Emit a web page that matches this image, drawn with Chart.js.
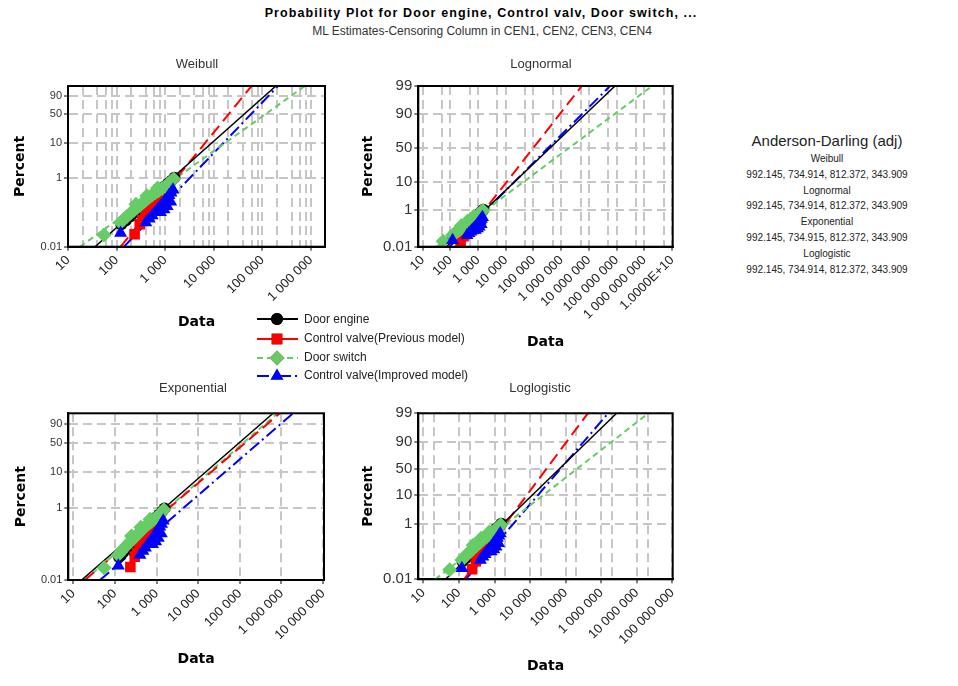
<!DOCTYPE html>
<html>
<head>
<meta charset="utf-8">
<script src="https://cdn.jsdelivr.net/npm/chart.js@4.4.1/dist/chart.umd.min.js"></script>
<style>
  body { margin: 0; width: 958px; height: 686px; background: #fff; position: relative; overflow: hidden;
         font-family: "Liberation Sans", Arial, sans-serif; color: #222; }
  canvas { position: absolute; }
  .abs { position: absolute; white-space: nowrap; }
  #title { left: 0; width: 962px; top: 6px; text-align: center; font-weight: bold; font-size: 12.5px; letter-spacing: 1.1px; color: #000; }
  #subtitle { left: 0; width: 964px; top: 24px; text-align: center; font-size: 12px; color: #333; }
  #ad { left: 727px; width: 200px; top: 131px; text-align: center; color: #222; }
  #ad .h { font-size: 15px; line-height: 20px; }
  #ad .r { font-size: 10px; line-height: 15.8px; }
  .lg { left: 304px; font-size: 12px; color: #222; }
</style>
</head>
<body>
<div id="title" class="abs">Probability Plot for Door engine, Control valv, Door switch, ...</div>
<div id="subtitle" class="abs">ML Estimates-Censoring Column in CEN1, CEN2, CEN3, CEN4</div>

<canvas id="weibull" width="345" height="285" style="left:0;top:50px"></canvas>
<canvas id="lognormal" width="345" height="305" style="left:350px;top:50px"></canvas>
<canvas id="exponential" width="345" height="300" style="left:0;top:380px"></canvas>
<canvas id="loglogistic" width="345" height="306" style="left:350px;top:380px"></canvas>

<canvas id="legendMarks" width="50" height="80" style="left:254px;top:309px"></canvas>
<div class="abs lg" style="top:312px">Door engine</div>
<div class="abs lg" style="top:331px">Control valve(Previous model)</div>
<div class="abs lg" style="top:350px">Door switch</div>
<div class="abs lg" style="top:368px">Control valve(Improved model)</div>

<div id="ad" class="abs">
  <div class="h">Anderson-Darling (adj)</div>
  <div class="r">Weibull</div>
  <div class="r">992.145, 734.914, 812.372, 343.909</div>
  <div class="r">Lognormal</div>
  <div class="r">992.145, 734.914, 812.372, 343.909</div>
  <div class="r">Exponential</div>
  <div class="r">992.145, 734.915, 812.372, 343.909</div>
  <div class="r">Loglogistic</div>
  <div class="r">992.145, 734.914, 812.372, 343.909</div>
</div>

<script>
// series names (legend order)
const seriesNames = ["Door engine", "Control valve(Previous model)", "Door switch", "Control valve(Improved model)"];

// plotted failures: data value and percent
const engineX = [125, 155, 195, 240, 290, 345, 410, 490, 580, 690, 820, 970, 1150, 1350, 1550];
const enginePct = [0.045, 0.058, 0.076, 0.1, 0.13, 0.16, 0.2, 0.25, 0.31, 0.38, 0.46, 0.56, 0.68, 0.82, 1.0];
const prevX = [235, 300, 340, 390, 440, 500, 570, 650, 740, 840, 950, 1080, 1220, 600, 760, 900];
const prevPct = [0.023, 0.045, 0.058, 0.075, 0.095, 0.12, 0.15, 0.18, 0.22, 0.26, 0.31, 0.37, 0.45, 0.11, 0.15, 0.19];
const switchX = [55, 120, 140, 165, 195, 230, 270, 320, 380, 450, 530, 620, 730, 860, 1000, 1150, 1320, 1500, 250, 420, 700];
const switchPct = [0.022, 0.05, 0.062, 0.077, 0.095, 0.115, 0.14, 0.17, 0.21, 0.26, 0.31, 0.36, 0.42, 0.49, 0.56, 0.65, 0.78, 0.92, 0.17, 0.3, 0.5];
const improvedX = [121, 400, 470, 540, 620, 700, 800, 900, 1000, 1100, 1200, 1320, 1450, 800, 950, 1100, 1300];
const improvedPct = [0.025, 0.05, 0.065, 0.08, 0.1, 0.12, 0.15, 0.18, 0.22, 0.26, 0.31, 0.37, 0.45, 0.1, 0.12, 0.15, 0.2];

// fitted lines: data value at 0.01 % and at 99 % (engine, prev, switch, improved)
const fitPct = [0.01, 99];
const weibullFits = [[36, 190000], [121, 60000], [17.7, 750000], [142, 210000]];
const lognormalFits = [[73, 8.7e7], [160, 5.5e6], [32, 1.9e9], [94, 5.8e7]];
const exponentialFits = [[15.9, 630000], [19, 910000], [19, 800000], [44, 1.9e6]];
const loglogisticFits = [[42, 2.7e6], [139, 420000], [21.6, 2.1e7], [155, 1.56e6]];

// y ticks (percent)
const pctTicksShort = [0.01, 1, 10, 50, 90];
const pctLabelsShort = ["0.01", "1", "10", "50", "90"];
const pctTicksLong = [0.01, 1, 10, 50, 90, 99];
const pctLabelsLong = ["0.01", "1", "10", "50", "90", "99"];

// x ticks (data)
const weibullXTicks = [10, 100, 1000, 10000, 100000, 1000000];
const weibullXLabels = ["10", "100", "1 000", "10 000", "100 000", "1 000 000"];
const lognormalXTicks = [10, 100, 1e3, 1e4, 1e5, 1e6, 1e7, 1e8, 1e9, 1e10];
const lognormalXLabels = ["10", "100", "1 000", "10 000", "100 000", "1 000 000", "10 000 000", "100 000 000", "1 000 000 000", "1.0000E+10"];
const exponentialXTicks = [10, 100, 1e3, 1e4, 1e5, 1e6, 1e7];
const exponentialXLabels = ["10", "100", "1 000", "10 000", "100 000", "1 000 000", "10 000 000"];
const loglogisticXTicks = [10, 100, 1e3, 1e4, 1e5, 1e6, 1e7, 1e8];
const loglogisticXLabels = ["10", "100", "1 000", "10 000", "100 000", "1 000 000", "10 000 000", "100 000 000"];

// extra grid lines inside each decade
const weibullMinor = [2, 4, 6, 8];
const lognormalMinor = [5];
const exponentialMinor = [];
const loglogisticMinor = [2];

// ---- probability scales ----
function probit(p) {
  const a = [-39.69683028665376, 220.9460984245205, -275.9285104469687, 138.3577518672690, -30.66479806614716, 2.506628277459239];
  const b = [-54.47609879822406, 161.5858368580409, -155.6989798598866, 66.80131188771972, -13.28068155288572];
  const c = [-0.007784894002430293, -0.3223964580411365, -2.400758277161838, -2.549671010029745, 4.374664141464968, 2.938163982698783];
  const d = [0.007784695709041462, 0.3224671290700398, 2.445134137142996, 3.754408661907416];
  const pl = 0.02425;
  if (p < pl) {
    const q = Math.sqrt(-2 * Math.log(p));
    return (((((c[0]*q+c[1])*q+c[2])*q+c[3])*q+c[4])*q+c[5]) / ((((d[0]*q+d[1])*q+d[2])*q+d[3])*q+1);
  }
  if (p > 1 - pl) {
    const q = Math.sqrt(-2 * Math.log(1 - p));
    return -(((((c[0]*q+c[1])*q+c[2])*q+c[3])*q+c[4])*q+c[5]) / ((((d[0]*q+d[1])*q+d[2])*q+d[3])*q+1);
  }
  const q = p - 0.5, r = q * q;
  return (((((a[0]*r+a[1])*r+a[2])*r+a[3])*r+a[4])*r+a[5])*q / (((((b[0]*r+b[1])*r+b[2])*r+b[3])*r+b[4])*r+1);
}
const weibullY = p => Math.log(-Math.log(1 - p));
const logitY = p => Math.log(p / (1 - p));

const colors = ["#000000", "#ff0000", "#66cc66", "#0000ff"];
const lineDash = [[], [12, 6], [6, 4], [12, 4, 2, 4]];
const lineWidth = [1.5, 2, 2, 2];
const marks = ["circle", "rect", "rectRot", "triangle"];
const markRadius = [6, 7.5, 7.5, 7.5];
const gridGray = "#c6c6c6";
const isDecade = v => Math.abs(Math.log10(v) - Math.round(Math.log10(v))) < 1e-9;

// box around plot area + panel title
const framePlugin = {
  id: "frame",
  afterDatasetsDraw(chart, args, o) {
    const { ctx, chartArea: a } = chart;
    ctx.save();
    ctx.setLineDash([]);
    ctx.strokeStyle = "#000";
    ctx.lineWidth = 2;
    ctx.strokeRect(a.left, a.top, a.right - a.left, a.bottom - a.top);
    ctx.fillStyle = "#333";
    ctx.font = '13px "Liberation Sans", Arial, sans-serif';
    ctx.textAlign = "center";
    ctx.textBaseline = "middle";
    ctx.fillText(o.text, o.x, o.y);
    ctx.restore();
  }
};

function makePanel(id, cfg) {
  const f = cfg.f;
  const toPts = (xs, ps) => xs.map((x, i) => ({ x: x, y: f(ps[i] / 100) }));
  const pointSets = [[engineX, enginePct], [prevX, prevPct], [switchX, switchPct], [improvedX, improvedPct]];
  const datasets = [];
  pointSets.forEach((s, i) => {
    datasets.push({
      label: seriesNames[i],
      data: toPts(s[0], s[1]),
      showLine: false,
      pointStyle: marks[i],
      pointRadius: markRadius[i],
      pointBackgroundColor: colors[i],
      pointBorderWidth: 0,
      order: 4 - i
    });
  });
  cfg.fits.forEach((fx, i) => {
    datasets.push({
      label: seriesNames[i] + " fit",
      data: [{ x: fx[0], y: f(fitPct[0] / 100) }, { x: fx[1], y: f(fitPct[1] / 100) }],
      showLine: true,
      borderColor: colors[i],
      borderWidth: lineWidth[i],
      borderDash: lineDash[i],
      pointRadius: 0,
      order: 10 + i
    });
  });

  const xGrid = [];
  cfg.xTicks.forEach(v => {
    xGrid.push(v);
    if (v * 10 <= cfg.xMax * 1.0001) cfg.minor.forEach(m => xGrid.push(v * m));
  });

  new Chart(document.getElementById(id), {
    type: "scatter",
    data: { datasets: datasets },
    options: {
      responsive: false,
      animation: false,
      events: [],
      layout: { autoPadding: false, padding: { left: 0, top: cfg.padTop, right: cfg.padRight, bottom: 0 } },
      plugins: {
        legend: { display: false },
        tooltip: { enabled: false },
        frame: { text: cfg.title, x: cfg.titleX, y: cfg.titleY }
      },
      scales: {
        x: {
          type: "logarithmic",
          min: cfg.xMin,
          max: cfg.xMax,
          afterBuildTicks: s => { s.ticks = xGrid.map(v => ({ value: v })); },
          afterFit: s => { s.height = cfg.xAxisH; },
          ticks: {
            autoSkip: false,
            minRotation: 45,
            maxRotation: 45,
            padding: 2,
            color: "#222",
            font: { family: '"Liberation Sans", Arial, sans-serif', size: 13 },
            callback: v => {
              const k = cfg.xTicks.findIndex(t => Math.abs(t - v) / t < 1e-9);
              return k >= 0 ? cfg.xLabels[k] : "";
            }
          },
          grid: {
            color: gridGray,
            lineWidth: 2,
            tickLength: 4,
            tickWidth: 1,
            tickColor: c => (c.tick && isDecade(c.tick.value) ? "#000" : "rgba(0,0,0,0)")
          },
          border: { display: true, color: "#000", width: 2, dash: [9, 5] },
          title: {
            display: true,
            text: "Data",
            color: "#000",
            font: { family: '"DejaVu Sans", sans-serif', size: 14, weight: "bold" },
            padding: { top: cfg.xTitlePad, bottom: cfg.xTitlePad }
          }
        },
        y: {
          type: "linear",
          min: f(cfg.yTicks[0] / 100),
          max: f(0.99),
          afterBuildTicks: s => { s.ticks = cfg.yTicks.map(p => ({ value: f(p / 100) })); },
          afterFit: s => { s.width = cfg.yAxisW; },
          ticks: {
            autoSkip: false,
            padding: 2,
            color: "#333",
            font: { family: '"Liberation Sans", Arial, sans-serif', size: cfg.yFont },
            callback: (v, i) => cfg.yLabels[i]
          },
          grid: { color: gridGray, lineWidth: 2, tickLength: 4, tickWidth: 1, tickColor: "#000" },
          border: { display: true, color: "#000", width: 2, dash: [9, 5] },
          title: {
            display: true,
            text: "Percent",
            color: "#000",
            font: { family: '"DejaVu Sans", sans-serif', size: 14, weight: "bold" },
            padding: { top: cfg.yTitlePad, bottom: cfg.yTitlePad }
          }
        }
      }
    },
    plugins: [framePlugin]
  });
}

makePanel("weibull", {
  f: weibullY, fits: weibullFits, title: "Weibull", titleX: 197, titleY: 14,
  xMin: 10, xMax: 1.95e6, xTicks: weibullXTicks, xLabels: weibullXLabels, minor: weibullMinor,
  yTicks: pctTicksShort, yLabels: pctLabelsShort, yFont: 11,
  padTop: 36, padRight: 20, yAxisW: 68, xAxisH: 88.3, yTitlePad: 11.6, xTitlePad: 4.6
});
makePanel("lognormal", {
  f: probit, fits: lognormalFits, title: "Lognormal", titleX: 191, titleY: 14,
  xMin: 7, xMax: 1.05e10, xTicks: lognormalXTicks, xLabels: lognormalXLabels, minor: lognormalMinor,
  yTicks: pctTicksLong, yLabels: pctLabelsLong, yFont: 15,
  padTop: 36, padRight: 22.3, yAxisW: 68.3, xAxisH: 108.3, yTitlePad: 9.9, xTitlePad: 3.9
});
makePanel("exponential", {
  f: weibullY, fits: exponentialFits, title: "Exponential", titleX: 193, titleY: 8,
  xMin: 7.6, xMax: 1.05e7, xTicks: exponentialXTicks, xLabels: exponentialXLabels, minor: exponentialMinor,
  yTicks: pctTicksShort, yLabels: pctLabelsShort, yFont: 11,
  padTop: 33.3, padRight: 21, yAxisW: 68.3, xAxisH: 100, yTitlePad: 13.3, xTitlePad: 12.3
});
makePanel("loglogistic", {
  f: logitY, fits: loglogisticFits, title: "Loglogistic", titleX: 190, titleY: 8,
  xMin: 7.2, xMax: 1.02e8, xTicks: loglogisticXTicks, xLabels: loglogisticXLabels, minor: loglogisticMinor,
  yTicks: pctTicksLong, yLabels: pctLabelsLong, yFont: 15,
  padTop: 33.3, padRight: 22.3, yAxisW: 68.3, xAxisH: 106.7, yTitlePad: 9.9, xTitlePad: 11.6
});

// legend symbols
(function () {
  const ctx = document.getElementById("legendMarks").getContext("2d");
  const ys = [10, 30, 49, 67];
  ys.forEach((y, i) => {
    ctx.save();
    ctx.strokeStyle = colors[i];
    ctx.fillStyle = colors[i];
    ctx.lineWidth = 2;
    ctx.setLineDash(i === 2 ? [6, 4] : i === 3 ? [12, 4, 2, 4] : []);
    ctx.beginPath();
    ctx.moveTo(3, y);
    ctx.lineTo(44, y);
    ctx.stroke();
    ctx.restore();
    Chart.helpers.drawPoint(ctx, { pointStyle: marks[i], radius: i === 0 ? 6 : 7.5, rotation: 0, borderWidth: 0 }, 23, y);
    ctx.fillStyle = colors[i];
    ctx.fill();
  });
})();
</script>
</body>
</html>
